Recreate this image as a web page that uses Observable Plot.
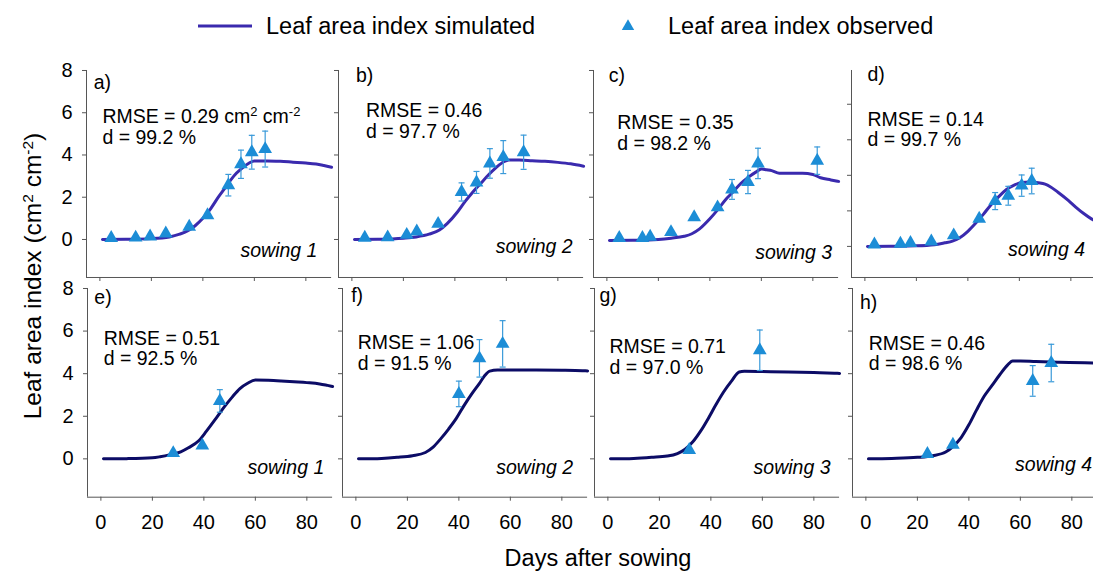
<!DOCTYPE html>
<html>
<head>
<meta charset="utf-8">
<script src="https://cdn.jsdelivr.net/npm/d3@7"></script>
<script src="https://cdn.jsdelivr.net/npm/@observablehq/plot@0.6"></script>
<style>
html, body { margin: 0; padding: 0; background: #fff; overflow: hidden; }
#chart { position: relative; width: 1093px; height: 572px; overflow: hidden; background: #fff;
  font-family: "Liberation Sans", Arial, sans-serif; }
.panel { position: absolute; }
#overlay { position: absolute; left: 0; top: 0; }
</style>
</head>
<body>
<div id="chart"><svg id="overlay" width="1093" height="572"></svg></div>
<script>
// ---------- DATA ----------
// Simulated leaf area index (days after sowing, LAI)
const simA_day = [1, 10, 20, 27, 31, 34, 37, 40, 43, 46, 49, 52, 55, 58, 60, 65, 70, 75, 80, 84, 87, 90];
const simA_lai = [0, 0.01, 0.04, 0.12, 0.25, 0.4, 0.65, 1.0, 1.45, 2.0, 2.5, 3.0, 3.35, 3.62, 3.72, 3.72, 3.7, 3.66, 3.62, 3.57, 3.5, 3.42];
const simB_day = [1, 10, 20, 25, 30, 34, 37, 41, 44, 47, 50, 53, 56, 59, 61, 65, 70, 75, 80, 85, 90];
const simB_lai = [0, 0.01, 0.06, 0.12, 0.25, 0.45, 0.75, 1.3, 1.8, 2.25, 2.65, 3.05, 3.4, 3.68, 3.76, 3.76, 3.73, 3.7, 3.65, 3.58, 3.47];
const simC_day = [1, 10, 20, 25, 30, 33, 36, 40, 43, 46, 49, 52, 55, 58, 60, 62, 64, 67, 71, 76, 80, 83, 87, 90];
const simC_lai = [-0.05, -0.04, 0, 0.06, 0.15, 0.27, 0.5, 0.98, 1.4, 1.87, 2.25, 2.65, 2.95, 3.2, 3.34, 3.3, 3.26, 3.14, 3.13, 3.13, 3.08, 2.92, 2.82, 2.75];
const simD_day = [1, 10, 20, 27, 31, 34, 37, 40, 43, 46, 49, 52, 55, 58, 61, 64, 68, 70, 72, 75, 79, 82, 85, 88, 90];
const simD_lai = [0, 0.01, 0.03, 0.09, 0.2, 0.3, 0.5, 0.85, 1.3, 1.8, 2.35, 2.8, 3.2, 3.45, 3.6, 3.62, 3.57, 3.5, 3.36, 3.05, 2.59, 2.2, 1.85, 1.55, 1.4];
const simE_day = [1, 10, 20, 23, 27, 31, 34, 38, 41, 45, 48, 51, 54, 57, 60, 65, 70, 75, 80, 85, 88, 90];
const simE_lai = [0, 0.01, 0.05, 0.1, 0.2, 0.33, 0.52, 0.85, 1.3, 1.95, 2.45, 2.9, 3.3, 3.55, 3.7, 3.69, 3.66, 3.62, 3.58, 3.52, 3.45, 3.4];
const simF_day = [1, 10, 16, 22, 27, 30, 33, 36, 39, 42, 45, 48, 50, 52, 55, 60, 70, 80, 88, 90];
const simF_lai = [0, 0.02, 0.07, 0.15, 0.3, 0.55, 0.95, 1.4, 1.9, 2.5, 3.05, 3.55, 3.9, 4.12, 4.17, 4.17, 4.17, 4.16, 4.14, 4.13];
const simG_day = [1, 10, 17, 23, 27, 30, 33, 36, 39, 42, 45, 48, 51, 53, 60, 70, 80, 88, 90];
const simG_lai = [0, 0.02, 0.07, 0.13, 0.25, 0.45, 0.8, 1.3, 1.9, 2.55, 3.15, 3.65, 4.08, 4.11, 4.1, 4.08, 4.05, 4.02, 4.01];
const simH_day = [1, 10, 20, 26, 31, 34, 37, 40, 43, 46, 49, 52, 55, 57, 60, 66, 75, 85, 90];
const simH_lai = [0, 0.02, 0.07, 0.15, 0.32, 0.6, 1.0, 1.6, 2.3, 2.95, 3.45, 3.95, 4.4, 4.6, 4.6, 4.57, 4.54, 4.51, 4.49];

// Observed leaf area index (mean and standard deviation)
const obsA_day = [4.4, 13.9, 19.5, 25.6, 34.7, 41.8, 49.9, 54.8, 59, 64.2];
const obsA_lai = [0.07, 0.09, 0.14, 0.28, 0.6, 1.15, 2.57, 3.56, 4.13, 4.28];
const obsA_sd  = [0, 0, 0, 0, 0, 0, 0.51, 0.67, 0.8, 0.85];
const obsB_day = [5, 13.9, 21.3, 25.2, 33.5, 42.6, 48.4, 53.6, 58.8, 66.7];
const obsB_lai = [0.08, 0.1, 0.22, 0.38, 0.74, 2.25, 2.7, 3.6, 3.9, 4.13];
const obsB_sd  = [0, 0, 0, 0, 0, 0.43, 0.52, 0.7, 0.78, 0.81];
const obsC_day = [4.8, 13.8, 16.8, 24.9, 33.9, 43, 48.6, 54.8, 58.7, 81.7];
const obsC_lai = [0.07, 0.07, 0.13, 0.35, 1.05, 1.52, 2.37, 2.72, 3.6, 3.73];
const obsC_sd  = [0, 0, 0, 0, 0, 0, 0.47, 0.55, 0.72, 0.65];
const obsD_day = [3.7, 13.8, 17.7, 25.8, 34.5, 44.4, 50.6, 55.7, 60.9, 64.8];
const obsD_lai = [0.11, 0.15, 0.19, 0.28, 0.62, 1.56, 2.55, 2.85, 3.42, 3.68];
const obsD_sd  = [0, 0, 0, 0, 0, 0, 0.48, 0.53, 0.6, 0.72];
const obsE_day = [28.1, 39.4, 46.2];
const obsE_lai = [0.27, 0.63, 2.72];
const obsE_sd  = [0, 0, 0.53];
const obsF_day = [40, 48, 57];
const obsF_lai = [3.05, 4.72, 5.4];
const obsF_sd  = [0.6, 0.88, 1.09];
const obsG_day = [31.6, 59];
const obsG_lai = [0.42, 5.1];
const obsG_sd  = [0, 0.95];
const obsH_day = [23.9, 33.8, 64.8, 72];
const obsH_lai = [0.23, 0.66, 3.66, 4.5];
const obsH_sd  = [0, 0, 0.72, 0.88];

// Texts
const panelLetters = ["a)", "b)", "c)", "d)", "e)", "f)", "g)", "h)"];
const rmseValues = ["0.29 cm^2 cm^-2", "0.46", "0.35", "0.14", "0.51", "1.06", "0.71", "0.46"];
const dValues = ["99.2", "97.7", "98.2", "99.7", "92.5", "91.5", "97.0", "98.6"];
const sowingLabels = ["sowing 1", "sowing 2", "sowing 3", "sowing 4", "sowing 1", "sowing 2", "sowing 3", "sowing 4"];
const xTicks = [0, 20, 40, 60, 80];
const yTicks = [0, 2, 4, 6, 8];
const legendLabels = ["Leaf area index simulated", "Leaf area index observed"];
const xTitle = "Days after sowing";

// ---------- STYLE / LAYOUT ----------
const FONT = '"Liberation Sans", Arial, Helvetica, sans-serif';
const TOP_LINE = "#3a2aae";
const BOTTOM_LINE = "#0c0c66";
const MARK = "#1c8dd6";
const ERR = "#3a9ad9";
const AXIS = "#555";
const xDomain = [-5.2, 90];
const yMain = [-1.8, 8];
const yD = [-1.75, 9.9];
const W = 245.1;

const simDays = [simA_day, simB_day, simC_day, simD_day, simE_day, simF_day, simG_day, simH_day];
const simLais = [simA_lai, simB_lai, simC_lai, simD_lai, simE_lai, simF_lai, simG_lai, simH_lai];
const obsDays = [obsA_day, obsB_day, obsC_day, obsD_day, obsE_day, obsF_day, obsG_day, obsH_day];
const obsLais = [obsA_lai, obsB_lai, obsC_lai, obsD_lai, obsE_lai, obsF_lai, obsG_lai, obsH_lai];
const obsSds = [obsA_sd, obsB_sd, obsC_sd, obsD_sd, obsE_sd, obsF_sd, obsG_sd, obsH_sd];

const layout = [
  {L: 85.8, T: 70, H: 207, yd: yMain, color: TOP_LINE, showY: true, showX: false, let: [7.2, 18.7], st: [15.9, 73.3], sw: [-14.2, -20.3]},
  {L: 337.5, T: 70, H: 207, yd: yMain, color: TOP_LINE, showY: false, showX: false, let: [17.5, 12], st: [27.5, 67.3], sw: [-10.9, -24.3]},
  {L: 593, T: 70, H: 207, yd: yMain, color: TOP_LINE, showY: false, showX: false, let: [15.3, 12], st: [23.7, 79.3], sw: [-6.4, -18.7]},
  {L: 850.8, T: 70, H: 207, yd: yD, color: TOP_LINE, showY: false, showX: false, let: [15.9, 10.3], st: [15.9, 76], sw: [-11.6, -21]},
  {L: 86.5, T: 288, H: 208.7, yd: yMain, color: BOTTOM_LINE, showY: true, showX: true, let: [6.8, 15.7], st: [16.2, 77], sw: [-8.3, -23.4]},
  {L: 342, T: 288, H: 208.7, yd: yMain, color: BOTTOM_LINE, showY: false, showX: true, let: [8.7, 14], st: [15.3, 81.3], sw: [-14.4, -22.7]},
  {L: 594, T: 288, H: 208.7, yd: yMain, color: BOTTOM_LINE, showY: false, showX: true, let: [5, 14], st: [15, 85.3], sw: [-9.1, -23.4]},
  {L: 851.5, T: 288, H: 208.7, yd: yMain, color: BOTTOM_LINE, showY: false, showX: true, let: [7.5, 20.7], st: [16.2, 82], sw: [-5.6, -25.7]}
];

const capSymbol = {draw(ctx) { ctx.moveTo(-3, 0); ctx.lineTo(3, 0); }};
const SVGNS = "http://www.w3.org/2000/svg";

function applySup(root, shift, size) {
  root.querySelectorAll("tspan, text").forEach(el => {
    if (el.childElementCount === 0 && el.textContent.includes("^")) {
      const parts = el.textContent.split(/(\^-?\d)/);
      el.textContent = "";
      for (const part of parts) {
        if (!part) continue;
        if (part[0] === "^") {
          const t = document.createElementNS(SVGNS, "tspan");
          t.setAttribute("baseline-shift", shift);
          t.setAttribute("font-size", size);
          t.textContent = part.slice(1);
          el.appendChild(t);
        } else el.appendChild(document.createTextNode(part));
      }
    }
  });
}

const chart = document.getElementById("chart");
const ml = 35, mr = 8, mt = 14, mb = 48;

layout.forEach((p, i) => {
  const sim = simDays[i].map((d, k) => ({day: d, lai: simLais[i][k]}));
  const obs = obsDays[i].map((d, k) => ({day: d, lai: obsLais[i][k], sd: obsSds[i][k]}));
  const err = obs.filter(o => o.sd > 0).map(o => ({day: o.day, lo: o.lai - o.sd, hi: o.lai + o.sd}));
  const caps = err.flatMap(e => [{day: e.day, v: e.lo}, {day: e.day, v: e.hi}]);
  const stats = `RMSE = ${rmseValues[i]}\nd = ${dValues[i]} %`;
  const svg = Plot.plot({
    width: ml + W + mr,
    height: mt + p.H + mb,
    marginLeft: ml, marginRight: mr, marginTop: mt, marginBottom: mb,
    style: {background: "none", overflow: "visible", fontFamily: FONT, fontSize: "20px", maxWidth: "none", color: "#000"},
    x: {domain: xDomain},
    y: {domain: p.yd},
    marks: [
      Plot.ruleX([xDomain[0]], {stroke: AXIS, strokeWidth: 1}),
      Plot.ruleY([p.yd[0]], {stroke: AXIS, strokeWidth: 1}),
      Plot.axisX({ticks: xTicks, tickSize: 4, tickPadding: 14, stroke: AXIS, fill: "#000", fontSize: 20,
        tickFormat: p.showX ? (d => String(d)) : (() => ""), label: null}),
      Plot.axisY({ticks: yTicks, tickSize: 4, tickPadding: 10, stroke: AXIS, fill: "#000", fontSize: 20,
        tickFormat: p.showY ? (d => String(d)) : (() => ""), label: null}),
      Plot.line(sim, {x: "day", y: "lai", stroke: p.color, strokeWidth: 3, curve: "monotone-x"}),
      Plot.ruleX(err, {x: "day", y1: "lo", y2: "hi", stroke: ERR, strokeWidth: 1.2}),
      Plot.dot(caps, {x: "day", y: "v", symbol: capSymbol, r: 3, stroke: ERR, strokeWidth: 1.2, fill: "none"}),
      Plot.dot(obs, {x: "day", y: "lai", symbol: "triangle", r: 5.1, fill: MARK, stroke: "none"}),
      Plot.text([panelLetters[i]], {text: d => d, frameAnchor: "top-left", textAnchor: "start", lineAnchor: "bottom",
        dx: p.let[0], dy: p.let[1], fontSize: 19.5, fill: "#000"}),
      Plot.text([stats], {text: d => d, frameAnchor: "top-left", textAnchor: "start", lineAnchor: "bottom",
        lineHeight: 1.056, dx: p.st[0], dy: p.st[1], fontSize: 19.5, fill: "#000"}),
      Plot.text([sowingLabels[i]], {text: d => d, frameAnchor: "bottom-right", textAnchor: "end", lineAnchor: "bottom",
        dx: p.sw[0], dy: p.sw[1], fontSize: 19.5, fontStyle: "italic", fill: "#000"})
    ]
  });
  applySup(svg, "7", "13");
  const div = document.createElement("div");
  div.className = "panel";
  div.style.left = (p.L - ml) + "px";
  div.style.top = (p.T - mt) + "px";
  div.appendChild(svg);
  chart.appendChild(div);
});

// ---------- legend and axis titles ----------
const ov = d3.select("#overlay").style("font-family", FONT);
ov.append("line").attr("x1", 198).attr("x2", 252).attr("y1", 26).attr("y2", 26)
  .attr("stroke", TOP_LINE).attr("stroke-width", 3);
ov.append("text").attr("x", 266).attr("y", 33.5).attr("font-size", 23.5).text(legendLabels[0]);
ov.append("path").attr("transform", "translate(628,26.5)")
  .attr("d", d3.symbol(d3.symbolTriangle, Math.PI * 4.6 * 4.6)()).attr("fill", MARK);
ov.append("text").attr("x", 668).attr("y", 33.5).attr("font-size", 23.5).text(legendLabels[1]);
ov.append("text").attr("x", 598).attr("y", 566).attr("font-size", 23.5).attr("text-anchor", "middle").text(xTitle);
const yt = ov.append("text").attr("transform", "translate(41,276) rotate(-90)")
  .attr("font-size", 24.5).attr("text-anchor", "middle").text("Leaf area index (cm^2 cm^-2)");
applySup(document.getElementById("overlay"), "8", "15.5");
</script>
</body>
</html>
